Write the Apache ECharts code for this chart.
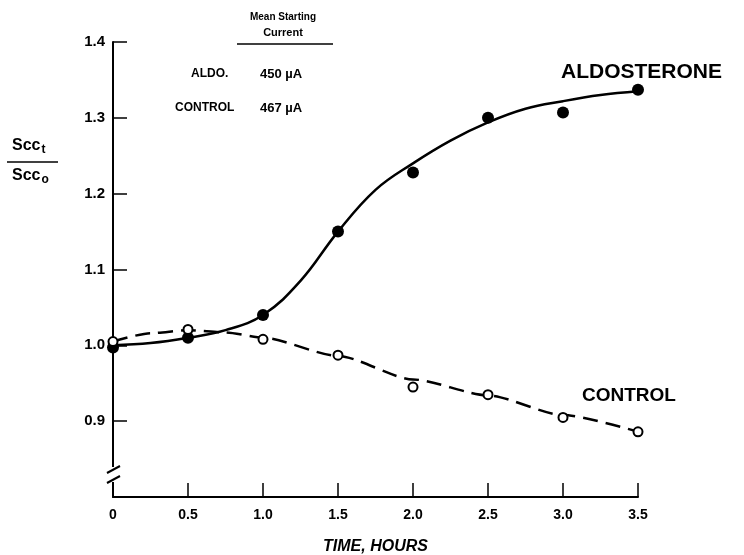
<!DOCTYPE html>
<html>
<head>
<meta charset="utf-8">
<script src="https://cdn.jsdelivr.net/npm/echarts@6/dist/echarts.min.js"></script>
<style>
  html, body { margin: 0; padding: 0; background: #fff; }
  #chart { width: 744px; height: 555px; }
</style>
</head>
<body>
<div id="chart"></div>
<script>
// measured points
var times = [0, 0.5, 1.0, 1.5, 2.0, 2.5, 3.0, 3.5];
var aldoValues = [0.997, 1.01, 1.04, 1.15, 1.228, 1.30, 1.307, 1.337];
var controlValues = [1.005, 1.021, 1.008, 0.987, 0.945, 0.935, 0.905, 0.886];

// hand-drawn fitted curves
var aldoCurveTimes = [0, 0.25, 0.5, 0.75, 1.0, 1.25, 1.5, 1.75, 2.0, 2.25, 2.5, 2.75, 3.0, 3.25, 3.5];
var aldoCurveValues = [1.0, 1.003, 1.01, 1.02, 1.04, 1.085, 1.15, 1.205, 1.24, 1.27, 1.294, 1.312, 1.322, 1.33, 1.335];
var controlCurveTimes = [0, 0.25, 0.5, 0.75, 1.0, 1.5, 2.0, 2.5, 3.0, 3.5];
var controlCurveValues = [1.005, 1.016, 1.02, 1.017, 1.01, 0.986, 0.955, 0.934, 0.908, 0.886];

var xTicks = [0, 0.5, 1.0, 1.5, 2.0, 2.5, 3.0, 3.5];
var yTicks = [0.9, 1.0, 1.1, 1.2, 1.3, 1.4];

function pairs(xs, ys) {
    return xs.map(function (x, i) { return [x, ys[i]]; });
}

var chart = echarts.init(document.getElementById('chart'));
var font = '"Liberation Sans", Arial, sans-serif';

var option = {
    backgroundColor: '#fff',
    animation: false,
    grid: { left: 113, right: 106, top: 42, bottom: 58, containLabel: false, outerBoundsMode: 'none' },
    xAxis: {
        type: 'value',
        min: 0,
        max: 3.5,
        interval: 0.5,
        splitLine: { show: false },
        axisLine: { lineStyle: { color: '#000', width: 2 } },
        axisTick: { inside: true, length: 14, customValues: xTicks, lineStyle: { color: '#000', width: 1.5 } },
        axisLabel: {
            color: '#000', fontFamily: font, fontSize: 14, fontWeight: 'bold', margin: 11,
            customValues: xTicks,
            formatter: function (v) { return v === 0 ? '0' : v.toFixed(1); }
        },
        name: 'TIME, HOURS',
        nameLocation: 'middle',
        nameGap: 42,
        nameTextStyle: { color: '#000', fontFamily: font, fontSize: 16, fontWeight: 'bold', fontStyle: 'italic' }
    },
    yAxis: {
        type: 'value',
        min: 0.8,
        max: 1.4,
        interval: 0.1,
        splitLine: { show: false },
        axisLine: { lineStyle: { color: '#000', width: 2 } },
        axisTick: { inside: true, length: 14, customValues: yTicks, lineStyle: { color: '#000', width: 1.5 } },
        axisLabel: {
            color: '#000', fontFamily: font, fontSize: 15, fontWeight: 'bold', margin: 8,
            customValues: yTicks,
            formatter: function (v) { return v.toFixed(1); }
        }
    },
    series: [
        {
            name: 'Aldosterone curve',
            type: 'line',
            smooth: 0.4,
            showSymbol: false,
            data: pairs(aldoCurveTimes, aldoCurveValues),
            lineStyle: { color: '#000', width: 2.5 },
            z: 2
        },
        {
            name: 'Aldosterone',
            type: 'scatter',
            symbol: 'circle',
            symbolSize: 12,
            data: pairs(times, aldoValues),
            itemStyle: { color: '#000', opacity: 1 },
            z: 4
        },
        {
            name: 'Control curve',
            type: 'line',
            smooth: 0.25,
            smoothMonotone: 'x',
            showSymbol: false,
            data: pairs(controlCurveTimes, controlCurveValues),
            lineStyle: { color: '#000', width: 2.5, type: [15, 8] },
            z: 2
        },
        {
            name: 'Control',
            type: 'scatter',
            symbol: 'circle',
            symbolSize: 9,
            data: pairs(times, controlValues),
            itemStyle: { color: '#fff', borderColor: '#000', borderWidth: 2, opacity: 1 },
            z: 5
        }
    ]
};

chart.setOption(option);

var txt = { fill: '#000', fontFamily: font, fontWeight: 'bold' };
function t(x, y, s, size, extra) {
    var style = Object.assign({}, txt, { x: x, y: y, text: s, fontSize: size }, extra || {});
    return { type: 'text', style: style, z: 10 };
}

chart.setOption({
    graphic: [
        // axis break
        { type: 'rect', shape: { x: 108, y: 467, width: 10, height: 15 }, style: { fill: '#fff' }, z: 10 },
        { type: 'line', shape: { x1: 107, y1: 473, x2: 120, y2: 466 }, style: { stroke: '#000', lineWidth: 2 }, z: 11 },
        { type: 'line', shape: { x1: 107, y1: 483, x2: 120, y2: 476 }, style: { stroke: '#000', lineWidth: 2 }, z: 11 },

        // series labels
        t(561, 62, 'ALDOSTERONE', 21),
        t(582, 386, 'CONTROL', 19),

        // inset table
        t(283, 12, 'Mean Starting', 10, { align: 'center' }),
        t(283, 27, 'Current', 11, { align: 'center' }),
        { type: 'line', shape: { x1: 237, y1: 44, x2: 333, y2: 44 }, style: { stroke: '#000', lineWidth: 1.5 }, z: 10 },
        t(191, 68, 'ALDO.', 12),
        t(260, 68, '450 \u00b5A', 13),
        t(175, 102, 'CONTROL', 12),
        t(260, 102, '467 \u00b5A', 13),

        // y axis label as fraction
        {
            type: 'text', z: 10,
            style: {
                x: 12, y: 136, fill: '#000', fontFamily: font, fontWeight: 'bold',
                text: '{a|Scc}{s|t}',
                rich: { a: { fontSize: 16, fontWeight: 'bold', fontFamily: font }, s: { fontSize: 12, fontWeight: 'bold', fontFamily: font, padding: [8, 0, 0, 1] } }
            }
        },
        { type: 'line', shape: { x1: 7, y1: 162, x2: 58, y2: 162 }, style: { stroke: '#000', lineWidth: 1.5 }, z: 10 },
        {
            type: 'text', z: 10,
            style: {
                x: 12, y: 166, fill: '#000', fontFamily: font, fontWeight: 'bold',
                text: '{a|Scc}{s|o}',
                rich: { a: { fontSize: 16, fontWeight: 'bold', fontFamily: font }, s: { fontSize: 12, fontWeight: 'bold', fontFamily: font, padding: [8, 0, 0, 1] } }
            }
        }
    ]
});
</script>
</body>
</html>
